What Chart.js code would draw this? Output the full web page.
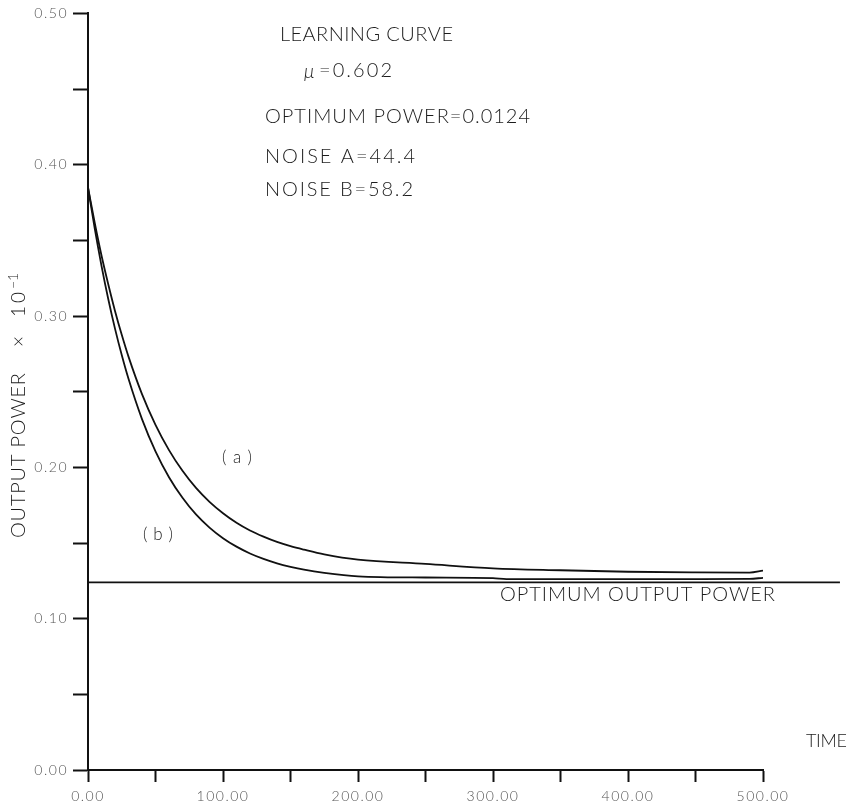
<!DOCTYPE html>
<html>
<head>
<meta charset="utf-8">
<script src="https://cdn.jsdelivr.net/npm/chart.js@4/dist/chart.umd.min.js"></script>
<style>
  html, body { margin: 0; padding: 0; background: #ffffff; }
  #wrap { width: 851px; height: 810px; }
</style>
</head>
<body>
<div id="wrap"><canvas id="c" width="851" height="810"></canvas></div>
<script>
// ---- data ----
const timeA  = [0, 5, 10, 15, 20, 25, 30, 40, 50, 60, 70, 80, 90, 100, 110, 120, 130, 140, 150, 160, 175, 200, 250, 300, 350, 400, 450, 490, 500];
const powerA = [0.385, 0.3615, 0.340, 0.321, 0.3034, 0.2876, 0.2732, 0.2484, 0.2281, 0.2114, 0.1977, 0.1864, 0.1772, 0.1697, 0.1634, 0.1583, 0.1542, 0.1507, 0.1479, 0.1456, 0.1425, 0.1390, 0.1362, 0.1333, 0.1320, 0.1310, 0.1306, 0.1305, 0.1318];
const timeB  = [0, 5, 10, 15, 20, 25, 30, 40, 50, 60, 70, 80, 90, 100, 110, 120, 130, 140, 150, 160, 175, 200, 250, 300, 310, 350, 400, 450, 490, 500];
const powerB = [0.385, 0.3577, 0.3332, 0.3113, 0.2917, 0.2742, 0.2585, 0.2319, 0.2106, 0.1935, 0.1799, 0.1689, 0.1602, 0.1532, 0.1476, 0.1431, 0.1395, 0.1366, 0.1343, 0.1324, 0.1303, 0.1280, 0.1272, 0.1268, 0.1262, 0.1262, 0.1261, 0.1262, 0.1263, 0.1270];
const optimumTime  = [0, 557];
const optimumPower = [0.124, 0.124];
const xTickLabels = ['0.00', '100.00', '200.00', '300.00', '400.00', '500.00'];
const yTickLabels = ['0.00', '0.10', '0.20', '0.30', '0.40', '0.50'];

const toPts = (xs, ys) => xs.map((x, i) => ({ x: x, y: ys[i] }));

// ---- text annotations drawn on the canvas ----
const INK = '#1c1c1c';
const FONT = 'Lato, "Open Sans", "DejaVu Sans", sans-serif';

function spaced(ctx, text, x, y, width, size, style) {
  ctx.font = (style || '300') + ' ' + size + 'px ' + FONT;
  const chars = Array.from(text);
  const ws = chars.map(c => ctx.measureText(c).width);
  const total = ws.reduce((a, b) => a + b, 0);
  const extra = chars.length > 1 ? (width - total) / (chars.length - 1) : 0;
  let cx = x;
  chars.forEach((c, i) => { ctx.fillText(c, cx, y); cx += ws[i] + extra; });
}

const tickSpacing = {
  id: 'tickSpacing',
  beforeDraw(chart) { chart.ctx.save(); chart.ctx.letterSpacing = '1.5px'; },
  afterDraw(chart) { chart.ctx.restore(); }
};

const annotations = {
  id: 'annotations',
  afterDraw(chart) {
    const ctx = chart.ctx;
    ctx.save();
    ctx.letterSpacing = '0px';
    ctx.fillStyle = INK;
    ctx.textBaseline = 'middle';
    ctx.textAlign = 'left';
    spaced(ctx, 'LEARNING CURVE', 280, 35, 173, 20);
    spaced(ctx, '\u03bc', 304, 72, 12, 19, 'italic 300');
    spaced(ctx, '=0.602', 319, 71, 73, 20);
    spaced(ctx, 'OPTIMUM POWER=0.0124', 265, 117, 265, 20);
    spaced(ctx, 'NOISE A=44.4', 265, 157, 150, 20);
    spaced(ctx, 'NOISE B=58.2', 265, 190, 148, 20);
    spaced(ctx, '(a)', 222, 458, 30, 17);
    spaced(ctx, '(b)', 143, 535, 30, 17);
    spaced(ctx, 'OPTIMUM OUTPUT POWER', 500, 595, 275, 20);
    spaced(ctx, 'TIME', 806, 741, 41, 18);
    // y axis title, rotated
    ctx.save();
    ctx.translate(19, 538);
    ctx.rotate(-Math.PI / 2);
    spaced(ctx, 'OUTPUT POWER', 0, 0, 165, 20);
    ctx.restore();
    ctx.save();
    ctx.translate(19, 347);
    ctx.rotate(-Math.PI / 2);
    spaced(ctx, '\u00d7', 0, 0, 14, 19);
    spaced(ctx, '10', 30, 0, 25, 19);
    spaced(ctx, '\u22121', 58, -6, 16, 14);
    ctx.restore();
    ctx.restore();
  }
};

const lineStyle = { borderColor: '#111', borderWidth: 1.8, pointRadius: 0, showLine: true, fill: false, cubicInterpolationMode: 'monotone' };

new Chart(document.getElementById('c'), {
  type: 'scatter',
  data: {
    datasets: [
      Object.assign({ label: '(a)', data: toPts(timeA, powerA) }, lineStyle),
      Object.assign({ label: '(b)', data: toPts(timeB, powerB) }, lineStyle),
      Object.assign({ label: 'optimum', data: toPts(optimumTime, optimumPower), clip: false }, lineStyle, { borderWidth: 1.6 })
    ]
  },
  options: {
    responsive: false,
    devicePixelRatio: 1,
    animation: false,
    layout: { padding: { left: 0, right: 88, top: 13, bottom: 0 } },
    plugins: { legend: { display: false }, tooltip: { enabled: false }, title: { display: false } },
    scales: {
      x: {
        type: 'linear', min: 0, max: 500,
        afterFit(s) { s.height = 40; },
        ticks: {
          stepSize: 50, autoSkip: false, maxRotation: 0, padding: 6,
          color: '#555', font: { family: FONT, size: 14, weight: '300' },
          callback(v) { const r = Math.round(v); return r % 100 === 0 ? xTickLabels[r / 100] : ''; }
        },
        grid: { display: true, drawOnChartArea: false, drawTicks: true, tickLength: 12, tickWidth: 2, tickColor: '#111' },
        border: { display: true, color: '#111', width: 2 }
      },
      y: {
        type: 'linear', min: 0, max: 0.5,
        afterFit(s) { s.width = 88; },
        ticks: {
          stepSize: 0.05, autoSkip: false, padding: 5,
          color: '#555', font: { family: FONT, size: 14, weight: '300' },
          callback(v) { const r = Math.round(v * 100); return r % 10 === 0 ? yTickLabels[r / 10] : ''; }
        },
        grid: { display: true, drawOnChartArea: false, drawTicks: true, tickLength: 15, tickWidth: 2, tickColor: '#111' },
        border: { display: true, color: '#111', width: 2 }
      }
    }
  },
  plugins: [tickSpacing, annotations]
});
</script>
</body>
</html>
